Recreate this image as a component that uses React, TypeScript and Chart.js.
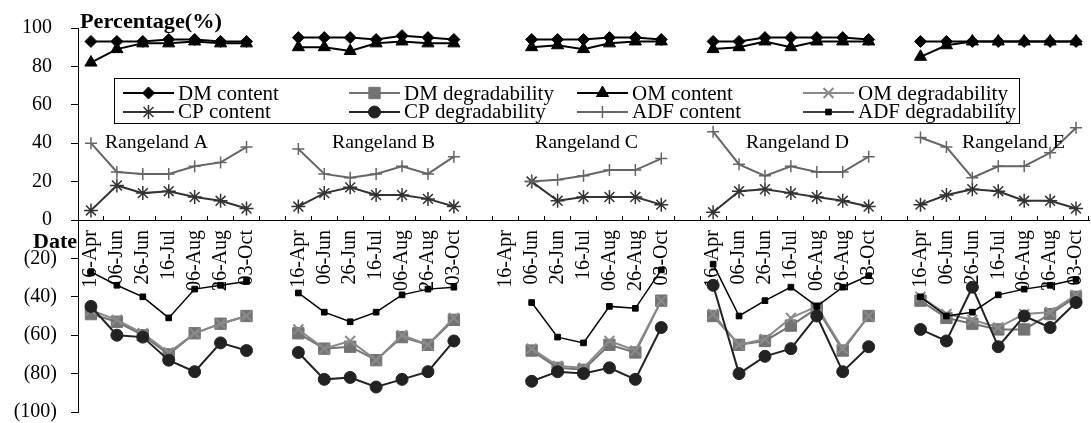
import React, { useEffect, useRef } from 'react';
import { Chart, registerables } from 'chart.js';
import { drawPoint } from 'chart.js/helpers';

Chart.register(...registerables);

// ---------- data ----------
const dates = ['16-Apr', '06-Jun', '26-Jun', '16-Jul', '06-Aug', '26-Aug', '03-Oct'];
const rangelands = ['Rangeland A', 'Rangeland B', 'Rangeland C', 'Rangeland D', 'Rangeland E'];

const dmContent = [
  [93, 93, 93, 94, 94, 93, 93],
  [95, 95, 95, 94, 96, 95, 94],
  [null, 94, 94, 94, 95, 95, 94],
  [93, 93, 95, 95, 95, 95, 94],
  [93, 93, 93, 93, 93, 93, 93],
];
const dmDegradability = [
  [-49, -53, -60, -70, -59, -54, -50],
  [-59, -67, -66, -73, -61, -65, -52],
  [null, -68, -77, -78, -65, -69, -42],
  [-50, -65, -63, -55, -46, -68, -50],
  [-42, -51, -54, -57, -57, -49, -40],
];
const omContent = [
  [82, 89, 92, 92, 93, 92, 92],
  [90, 90, 88, 92, 93, 92, 92],
  [null, 90, 91, 89, 92, 93, 93],
  [89, 90, 93, 90, 93, 93, 93],
  [85, 91, 93, 93, 93, 93, 93],
];
const omDegradability = [
  [-47, -52, -59, -69, -59, -54, -50],
  [-57, -67, -63, -73, -60, -65, -51],
  [null, -67, -76, -77, -63, -68, -42],
  [-49, -65, -62, -51, -45, -67, -50],
  [-40, -49, -52, -56, -49, -48, -39],
];
const cpContent = [
  [5, 18, 14, 15, 12, 10, 6],
  [7, 14, 17, 13, 13, 11, 7],
  [null, 20, 10, 12, 12, 12, 8],
  [4, 15, 16, 14, 12, 10, 7],
  [8, 13, 16, 15, 10, 10, 6],
];
const cpDegradability = [
  [-45, -60, -61, -73, -79, -64, -68],
  [-69, -83, -82, -87, -83, -79, -63],
  [null, -84, -79, -80, -77, -83, -56],
  [-34, -80, -71, -67, -50, -79, -66],
  [-57, -63, -35, -66, -50, -56, -43],
];
const adfContent = [
  [40, 25, 24, 24, 28, 30, 38],
  [37, 24, 22, 24, 28, 24, 33],
  [null, 20, 21, 23, 26, 26, 32],
  [46, 29, 23, 28, 25, 25, 33],
  [43, 38, 22, 28, 28, 35, 48],
];
const adfDegradability = [
  [-27, -34, -40, -51, -36, -34, -32],
  [-38, -48, -53, -48, -39, -36, -35],
  [null, -43, -61, -64, -45, -46, -26],
  [-23, -50, -42, -35, -45, -35, -29],
  [-40, -50, -48, -39, -36, -34, -31],
];

// ---------- helpers ----------
function joinGroups<T>(groups: T[][], gap: T): T[] {
  const out: T[] = [];
  groups.forEach((g, i) => {
    out.push(...g);
    if (i < groups.length - 1) out.push(gap);
  });
  return out;
}

const labels = joinGroups(rangelands.map(() => dates), '');

const seriesDefs = [
  { label: 'DM content', values: dmContent, color: '#000000', fill: '#000000', style: 'rectRot', radius: 6, lw: 2, pbw: 1 },
  { label: 'DM degradability', values: dmDegradability, color: '#737373', fill: '#737373', style: 'rect', radius: 8, lw: 2, pbw: 1 },
  { label: 'OM content', values: omContent, color: '#000000', fill: '#000000', style: 'triangle', radius: 7, lw: 2, pbw: 1 },
  { label: 'OM degradability', values: omDegradability, color: '#8a8a8a', fill: 'rgba(0,0,0,0)', style: 'crossRot', radius: 7, lw: 2, pbw: 2 },
  { label: 'CP content', values: cpContent, color: '#333333', fill: 'rgba(0,0,0,0)', style: 'star', radius: 7, lw: 2, pbw: 1.5 },
  { label: 'CP degradability', values: cpDegradability, color: '#222222', fill: '#222222', style: 'circle', radius: 6, lw: 2, pbw: 1 },
  { label: 'ADF content', values: adfContent, color: '#666666', fill: 'rgba(0,0,0,0)', style: 'cross', radius: 6, lw: 2, pbw: 1.5 },
  { label: 'ADF degradability', values: adfDegradability, color: '#000000', fill: '#000000', style: 'rect', radius: 4, lw: 1.5, pbw: 1 },
];

const SERIF = "'Liberation Serif', 'Times New Roman', serif";

function stretchText(ctx: CanvasRenderingContext2D, text: string, x: number, y: number, font: string, targetW?: number) {
  ctx.save();
  ctx.font = font;
  ctx.textAlign = 'left';
  ctx.textBaseline = 'alphabetic';
  ctx.fillStyle = '#000';
  const w = ctx.measureText(text).width;
  const s = targetW ? targetW / w : 1;
  ctx.translate(x, y);
  ctx.scale(s, 1);
  ctx.fillText(text, 0, 0);
  ctx.restore();
}

const decorPlugin = {
  id: 'decor',
  afterDraw(chart: any) {
    const ctx: CanvasRenderingContext2D = chart.ctx;
    stretchText(ctx, 'Percentage(%)', 80, 28, `bold 20px ${SERIF}`, 142);
    stretchText(ctx, 'Date', 33, 248, `bold 20px ${SERIF}`, 44);
    const rlX = [105, 332, 535, 746, 962];
    rangelands.forEach((r, i) => stretchText(ctx, r, rlX[i], 148, `19px ${SERIF}`, 103));

    ctx.save();
    ctx.fillStyle = '#fff';
    ctx.fillRect(114.5, 78.5, 905, 45);
    ctx.strokeStyle = '#000';
    ctx.lineWidth = 1;
    ctx.strokeRect(114.5, 78.5, 905, 45);
    const colX = [123, 349, 577, 803];
    const rowY = [93, 112];
    const rowBase = [99.5, 118];
    seriesDefs.forEach((d, i) => {
      const row = i < 4 ? 0 : 1;
      const col = i % 4;
      const x = colX[col];
      const y = rowY[row];
      ctx.strokeStyle = d.color;
      ctx.lineWidth = d.lw;
      ctx.beginPath();
      ctx.moveTo(x, y);
      ctx.lineTo(x + 51, y);
      ctx.stroke();
      ctx.fillStyle = d.fill;
      ctx.strokeStyle = d.color;
      ctx.lineWidth = d.pbw;
      drawPoint(ctx, { pointStyle: d.style, radius: d.radius, rotation: 0, borderWidth: d.pbw } as any, x + 25.5, y);
      ctx.fillStyle = '#000';
      ctx.font = `21px ${SERIF}`;
      ctx.textAlign = 'left';
      ctx.textBaseline = 'alphabetic';
      ctx.fillText(d.label, x + 55, rowBase[row]);
    });
    ctx.restore();
  },
};

function zeroPadding(s: any) {
  s.paddingLeft = 0;
  s.paddingRight = 0;
  s.paddingTop = 0;
  s.paddingBottom = 0;
}

export default function App() {
  const ref = useRef<HTMLCanvasElement | null>(null);

  useEffect(() => {
    if (!ref.current) return;
    const datasets = seriesDefs.map((d, i) => ({
      label: d.label,
      data: joinGroups(d.values as (number | null)[][], null),
      borderColor: d.color,
      backgroundColor: d.fill,
      borderWidth: d.lw,
      pointStyle: d.style as any,
      pointRadius: d.radius,
      pointHoverRadius: d.radius,
      pointBorderWidth: d.pbw,
      pointBorderColor: d.color,
      pointBackgroundColor: d.fill,
      spanGaps: false,
      tension: 0,
      order: seriesDefs.length - 1 - i,
    }));

    const chart = new Chart(ref.current, {
      type: 'line',
      data: { labels, datasets },
      options: {
        animation: false,
        responsive: false,
        devicePixelRatio: 1,
        layout: { padding: { left: 0, right: 0, top: 28, bottom: 11 } },
        plugins: {
          legend: { display: false },
          tooltip: { enabled: false },
          title: { display: false },
        },
        scales: {
          x: {
            type: 'category',
            position: { y: 0 } as any,
            offset: true,
            grid: {
              offset: true,
              drawOnChartArea: false,
              drawTicks: true,
              tickLength: -5,
              color: '#000',
              tickWidth: 1,
            },
            border: { display: true, color: '#000', width: 1 },
            ticks: {
              autoSkip: false,
              maxRotation: 90,
              minRotation: 90,
              padding: 15,
              color: '#000',
              font: { family: SERIF, size: 20 },
            },
            afterFit: zeroPadding,
          },
          y: {
            type: 'linear',
            min: -100,
            max: 100,
            position: 'left',
            grid: { drawOnChartArea: false, drawTicks: true, tickLength: 7, color: '#000', tickWidth: 1 },
            border: { display: true, color: '#000', width: 1 },
            ticks: {
              stepSize: 20,
              padding: 14,
              color: '#000',
              font: { family: SERIF, size: 20 },
              callback: (v: any) => (Number(v) < 0 ? `(${-Number(v)})` : `${v} `),
            },
            afterFit: (s: any) => {
              s.width = 78;
              zeroPadding(s);
            },
          },
        },
      },
      plugins: [decorPlugin],
    });
    return () => chart.destroy();
  }, []);

  return (
    <div style={{ position: 'fixed', left: 0, top: 0, width: 1091, height: 423, overflow: 'hidden', background: '#fff' }}>
      <canvas ref={ref} width={1098} height={423} style={{ width: 1098, height: 423, display: 'block' }} />
    </div>
  );
}
